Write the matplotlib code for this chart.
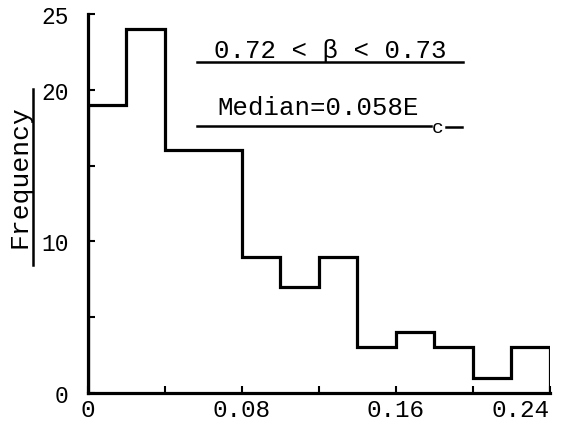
import matplotlib as mpl
mpl.use('Agg')
import matplotlib.pyplot as plt
from matplotlib.lines import Line2D

# bin edges (E/Ec) and counts
bin_edges = [0.0, 0.02, 0.04, 0.06, 0.08, 0.10, 0.12, 0.14, 0.16, 0.18, 0.20, 0.22, 0.24]
counts = [19, 24, 16, 16, 9, 7, 9, 3, 4, 3, 1, 3]

x_ticks = [0, 0.04, 0.08, 0.12, 0.16, 0.20, 0.24]
x_labels = ['0', '', '0.08', '', '0.16', '', '0.24']
y_ticks = [0, 5, 10, 15, 20, 25]
y_labels = ['0', '', '10', '', '20', '25']

mono = 'Liberation Mono'
lw = 2.3

fig = plt.figure(figsize=(5.77, 4.31), dpi=100)
ax = fig.add_axes([0.1525, 0.086, 0.8005, 0.879])

ax.stairs(counts, bin_edges, baseline=0, color='black', linewidth=lw)

ax.set_xlim(0, 0.24)
ax.set_ylim(0, 25)
ax.spines['top'].set_visible(False)
ax.spines['right'].set_visible(False)
ax.spines['left'].set_linewidth(lw)
ax.spines['bottom'].set_linewidth(lw)

ax.set_xticks(x_ticks)
ax.set_xticklabels(x_labels, fontfamily=mono, fontsize=17.5)
ax.set_yticks(y_ticks)
ax.set_yticklabels(y_labels, fontfamily=mono, fontsize=16.5)
ax.tick_params(axis='x', direction='in', length=5, width=1.5, pad=4)
ax.tick_params(axis='y', direction='in', length=5, width=1.5, pad=14)
ax.get_xticklabels()[-1].set_horizontalalignment('right')
ax.get_xticklabels()[-1].set_x(0.245)

# y label with underline
fig.text(19 / 577, 1 - 177 / 431, 'Frequency', rotation=90, ha='center', va='center',
         fontfamily=mono, fontsize=19)
fig.add_artist(Line2D([33 / 577, 33 / 577], [1 - 90 / 431, 1 - 266 / 431],
                      color='black', linewidth=1.8))

# annotations
ax.text(0.524, 0.905, '0.72 < β < 0.73', transform=ax.transAxes, ha='center', va='center',
        fontfamily=mono, fontsize=18.5)
ax.add_line(Line2D([0.236, 0.812], [0.873, 0.873], transform=ax.transAxes,
                   color='black', linewidth=1.8))
ax.text(0.281, 0.754, 'Median=0.058E', transform=ax.transAxes, ha='left', va='center',
        fontfamily=mono, fontsize=18.5)
ax.text(0.757, 0.700, 'c', transform=ax.transAxes, ha='center', va='center',
        fontfamily=mono, fontsize=14)
ax.add_line(Line2D([0.236, 0.742], [0.704, 0.704], transform=ax.transAxes,
                   color='black', linewidth=1.8))
ax.add_line(Line2D([0.775, 0.810], [0.702, 0.702], transform=ax.transAxes,
                   color='black', linewidth=1.8))

fig.savefig('out.png', dpi=100)
